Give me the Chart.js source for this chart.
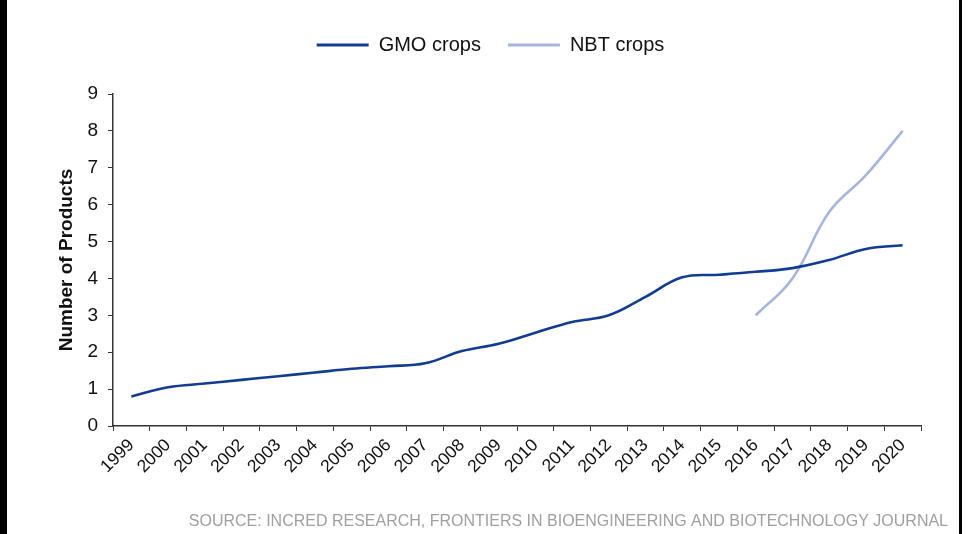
<!DOCTYPE html>
<html>
<head>
<meta charset="utf-8">
<script src="https://cdn.jsdelivr.net/npm/chart.js@4/dist/chart.umd.min.js"></script>
<style>
  html, body { margin: 0; padding: 0; background: #fff; }
  #wrap { width: 969px; height: 534px; position: relative; }
</style>
</head>
<body>
<div id="wrap"><canvas id="c" width="969" height="534"></canvas></div>
<script>
// Approved product counts per year
const years = ['1999','2000','2001','2002','2003','2004','2005','2006','2007','2008','2009','2010',
               '2011','2012','2013','2014','2015','2016','2017','2018','2019','2020'];
const gmoCrops = [0.8, 1.05, 1.15, 1.25, 1.35, 1.45, 1.55, 1.62, 1.7, 2.03, 2.23, 2.53,
                  2.82, 3.0, 3.5, 4.03, 4.1, 4.18, 4.28, 4.5, 4.8, 4.9];
const nbtCrops = [null, null, null, null, null, null, null, null, null, null, null, null,
                  null, null, null, null, null, 3.0, 4.0, 5.8, 6.8, 8.0];
const yAxisMin = 0, yAxisMax = 9, yAxisStep = 1;
const seriesNames = ['GMO crops', 'NBT crops'];
const axisTitle = 'Number of Products';
const sourceNote = 'SOURCE: INCRED RESEARCH, FRONTIERS IN BIOENGINEERING AND BIOTECHNOLOGY JOURNAL';

const FONT = 'Arial, "Liberation Sans", Helvetica, sans-serif';
const AXIS_COLOR = '#333333';

// page frame, legend placement and footnote
const framePlugin = {
  id: 'frame',
  beforeInit(chart) {
    const lg = chart.legend;
    if (lg) {
      const fit = lg.fit;
      lg.fit = function () { fit.call(this); this.height = 86; };
    }
  },
  afterLayout(chart) {
    const lg = chart.legend;
    if (lg) { lg.left += 30; lg.right += 30; }
  },
  beforeDraw(chart) {
    const ctx = chart.ctx;
    ctx.save();
    ctx.fillStyle = '#ffffff';
    ctx.fillRect(0, 0, chart.width, chart.height);
    ctx.fillStyle = '#000000';
    ctx.fillRect(0, 0, 7, chart.height);
    ctx.fillRect(959, 0, 3, chart.height);
    ctx.restore();
  },
  afterDraw(chart) {
    const ctx = chart.ctx;
    ctx.save();
    ctx.font = '16px ' + FONT;
    ctx.fillStyle = '#a0a0a0';
    ctx.textAlign = 'right';
    ctx.textBaseline = 'middle';
    ctx.fillText(sourceNote, 948, 522);
    ctx.restore();
  }
};

new Chart(document.getElementById('c'), {
  type: 'line',
  data: {
    labels: years,
    datasets: [
      { label: seriesNames[0], data: gmoCrops, borderColor: '#123c91', backgroundColor: '#123c91',
        borderWidth: 2.6, pointRadius: 0, tension: 0.4, fill: false },
      { label: seriesNames[1], data: nbtCrops, borderColor: '#a7b5de', backgroundColor: '#a7b5de',
        borderWidth: 2.6, pointRadius: 0, tension: 0.4, fill: false }
    ]
  },
  options: {
    responsive: false,
    animation: false,
    events: [],
    layout: { padding: { left: 0, right: 48, top: 8, bottom: 0 } },
    plugins: {
      tooltip: { enabled: false },
      legend: {
        position: 'top',
        labels: {
          color: '#111',
          font: { family: FONT, size: 20 },
          boxWidth: 52,
          boxHeight: 3,
          padding: 27,
          generateLabels(chart) {
            return Chart.defaults.plugins.legend.labels.generateLabels(chart)
              .map(l => Object.assign({}, l, { lineWidth: 0, fillStyle: l.strokeStyle }));
          }
        }
      }
    },
    scales: {
      x: {
        offset: true,
        grid: { offset: true, drawOnChartArea: false, drawTicks: true, tickLength: 5, color: AXIS_COLOR, lineWidth: 1 },
        border: { display: true, color: AXIS_COLOR, width: 1.5 },
        ticks: { color: '#111', font: { family: FONT, size: 17.5 }, maxRotation: 45, minRotation: 45, padding: 4, autoSkip: false },
        afterFit(scale) { scale.height = 108; }
      },
      y: {
        min: yAxisMin, max: yAxisMax,
        grid: { drawOnChartArea: false, drawTicks: true, tickLength: 5, color: AXIS_COLOR, lineWidth: 1 },
        border: { display: true, color: AXIS_COLOR, width: 1.5 },
        ticks: { stepSize: yAxisStep, color: '#111', font: { family: FONT, size: 19 }, padding: 10 },
        title: { display: true, text: axisTitle, color: '#111', font: { family: FONT, size: 19, weight: 'bold' }, padding: { top: 55.6, bottom: 0 } },
        afterFit(scale) { scale.width = 113; }
      }
    }
  },
  plugins: [framePlugin]
});
</script>
</body>
</html>
